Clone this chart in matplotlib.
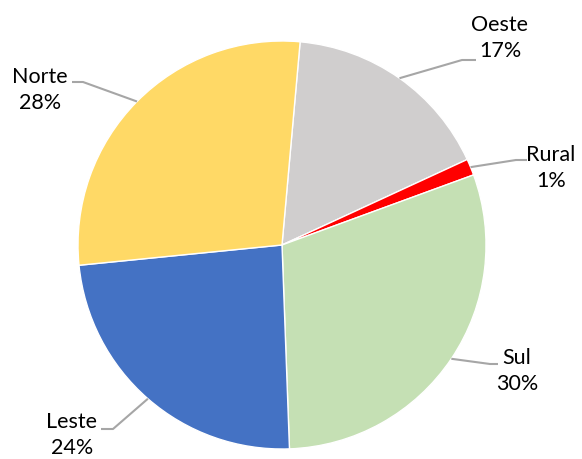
import numpy as np
import matplotlib
matplotlib.use('Agg')
import matplotlib.pyplot as plt

# data
regions = ['Oeste', 'Rural', 'Sul', 'Leste', 'Norte']
shares = [16.7, 1.3, 30.0, 24.0, 28.0]
pct_labels = ['17%', '1%', '30%', '24%', '28%']
colors = ['#D0CECE', '#FF0000', '#C5E0B4', '#4472C4', '#FFD966']

# layout in pixel coords (y measured from top)
W, H = 582, 459
cx, cy, r = 282, 245, 204
start = 84.9
# elbow point of leader, end of horizontal, text centre
elbows = [(462, 60), (516, 160), (490, 364), (113, 429), (83, 82)]
ends = [(476, 60), (527, 160), (498, 364), (101, 429), (72, 82)]
text_pos = [(500, 38), (551, 168), (517, 371), (72, 435), (40, 90)]

plt.rcParams['font.family'] = ['Lato', 'DejaVu Sans']

fig = plt.figure(figsize=(W / 100, H / 100), dpi=100)
ax = fig.add_axes([0, 0, 1, 1])

ax.pie(shares, colors=colors, startangle=start, counterclock=False,
       center=(cx, H - cy), radius=r,
       wedgeprops=dict(edgecolor='white', linewidth=1.0))

ang = start
for i, s in enumerate(shares):
    mid = np.deg2rad(ang - s * 3.6 / 2)
    ang -= s * 3.6
    x0 = cx + r * np.cos(mid)
    y0 = (H - cy) + r * np.sin(mid)
    ex, ey = elbows[i]
    hx, hy = ends[i]
    ax.plot([x0, ex, hx], [y0, H - ey, H - hy], color='#A6A6A6', lw=1.5,
            solid_capstyle='butt')
    tx, ty = text_pos[i]
    ax.text(tx, H - ty, regions[i] + '\n' + pct_labels[i], ha='center',
            va='center', fontsize=15.5, color='black', linespacing=1.4)

ax.set_xlim(0, W)
ax.set_ylim(0, H)
ax.set_aspect('equal')
ax.axis('off')

fig.savefig('out.png', dpi=100)
